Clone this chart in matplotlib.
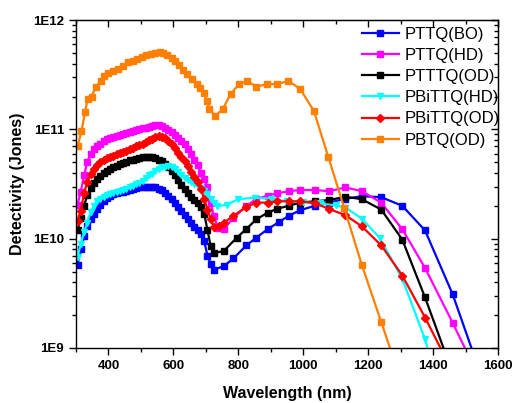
import numpy as np
import matplotlib
matplotlib.use("Agg")
import matplotlib.pyplot as plt
from matplotlib.ticker import MultipleLocator, LogLocator, FixedLocator, NullFormatter

plt.rcParams['font.family'] = ['Liberation Sans', 'DejaVu Sans']

# dense part of the spectra, 305..725 nm every 10 nm
wl_dense = list(range(305, 735, 10))

bo_dense = [5.8e9, 8.0e9, 1.05e10, 1.3e10, 1.52e10, 1.7e10, 1.88e10, 2.05e10, 2.22e10, 2.36e10,
            2.46e10, 2.55e10, 2.6e10, 2.65e10, 2.7e10, 2.72e10, 2.78e10, 2.85e10, 2.9e10, 2.95e10,
            2.98e10, 3.0e10, 3.0e10, 2.98e10, 2.95e10, 2.88e10, 2.78e10, 2.6e10, 2.45e10, 2.3e10,
            2.12e10, 1.95e10, 1.8e10, 1.65e10, 1.5e10, 1.38e10, 1.28e10, 1.2e10, 1.1e10, 9.5e9,
            7.0e9, 5.9e9, 5.2e9]
bo_wl_tail = [755, 785, 825, 855, 890, 925, 955, 990, 1035, 1080, 1130, 1180, 1240, 1305, 1375, 1460, 1540]
bo_tail = [5.6e9, 6.6e9, 8.7e9, 1.02e10, 1.22e10, 1.42e10, 1.62e10, 1.82e10, 2.0e10, 2.14e10,
           2.32e10, 2.45e10, 2.4e10, 2.0e10, 1.19e10, 3.1e9, 6.5e8]

hd_dense = [2.05e10, 2.7e10, 3.8e10, 5.0e10, 6.0e10, 6.6e10, 7.0e10, 7.4e10, 7.8e10, 8.1e10,
            8.3e10, 8.5e10, 8.7e10, 8.85e10, 9.0e10, 9.2e10, 9.4e10, 9.6e10, 9.8e10, 1.0e11,
            1.02e11, 1.04e11, 1.06e11, 1.08e11, 1.1e11, 1.1e11, 1.08e11, 1.04e11, 9.9e10, 9.4e10,
            8.9e10, 8.3e10, 7.8e10, 7.3e10, 6.6e10, 6.0e10, 5.3e10, 4.7e10, 4.0e10, 3.5e10,
            3.0e10, 2.1e10, 1.6e10]
hd_wl_tail = [738, 755, 785, 825, 855, 890, 920, 955, 990, 1035, 1080, 1130, 1180, 1240, 1305, 1375, 1460, 1540]
hd_tail = [1.25e10, 1.23e10, 1.55e10, 2.0e10, 2.3e10, 2.48e10, 2.6e10, 2.72e10, 2.79e10, 2.79e10,
           2.72e10, 2.95e10, 2.72e10, 2.14e10, 1.22e10, 5.4e9, 1.7e9, 5.5e8]

od_dense = [1.2e10, 1.55e10, 2.0e10, 2.5e10, 2.9e10, 3.25e10, 3.5e10, 3.75e10, 4.0e10, 4.2e10,
            4.35e10, 4.5e10, 4.65e10, 4.8e10, 4.95e10, 5.05e10, 5.2e10, 5.3e10, 5.4e10, 5.5e10,
            5.55e10, 5.6e10, 5.6e10, 5.55e10, 5.45e10, 5.3e10, 5.1e10, 4.85e10, 4.55e10, 4.2e10,
            3.8e10, 3.45e10, 3.1e10, 2.85e10, 2.6e10, 2.4e10, 2.25e10, 2.1e10, 1.95e10, 1.7e10,
            1.2e10, 8.5e9, 7.4e9]
od_wl_tail = [755, 795, 825, 855, 890, 920, 955, 990, 1035, 1080, 1130, 1180, 1240, 1305, 1375, 1460]
od_tail = [7.7e9, 1.02e10, 1.23e10, 1.5e10, 1.73e10, 1.88e10, 2.0e10, 2.14e10, 2.2e10, 2.26e10,
           2.42e10, 2.3e10, 1.85e10, 9.8e9, 2.9e9, 5.9e8]

bihd_dense = [6.8e9, 9.0e9, 1.15e10, 1.4e10, 1.75e10, 2.0e10, 2.2e10, 2.32e10, 2.42e10, 2.5e10,
              2.56e10, 2.62e10, 2.68e10, 2.74e10, 2.8e10, 2.88e10, 2.97e10, 3.05e10, 3.15e10, 3.25e10,
              3.4e10, 3.6e10, 3.8e10, 3.95e10, 4.15e10, 4.35e10, 4.5e10, 4.55e10, 4.6e10, 4.5e10,
              4.3e10, 4.05e10, 3.8e10, 3.6e10, 3.45e10, 3.3e10, 3.2e10, 3.05e10, 2.9e10, 2.75e10,
              2.55e10, 2.3e10, 2.1e10]
bihd_wl_tail = [735, 765, 800, 850, 900, 950, 1000, 1050, 1100, 1130, 1180, 1235, 1305, 1375, 1420]
bihd_tail = [1.98e10, 2.05e10, 2.3e10, 2.37e10, 2.32e10, 2.2e10, 2.15e10, 2.1e10, 2.02e10, 1.93e10,
             1.53e10, 1.02e10, 4.3e9, 1.2e9, 4.0e8]

biod_dense = [1.45e10, 1.8e10, 2.6e10, 3.3e10, 3.9e10, 4.35e10, 4.75e10, 5.0e10, 5.25e10, 5.45e10,
              5.6e10, 5.75e10, 5.9e10, 6.1e10, 6.25e10, 6.4e10, 6.6e10, 6.8e10, 7.0e10, 7.2e10,
              7.4e10, 7.7e10, 8.0e10, 8.2e10, 8.5e10, 8.7e10, 8.6e10, 8.3e10, 7.9e10, 7.3e10,
              6.7e10, 6.1e10, 5.6e10, 5.1e10, 4.6e10, 4.1e10, 3.7e10, 3.3e10, 2.85e10, 2.3e10,
              1.85e10, 1.5e10, 1.27e10]
biod_wl_tail = [740, 755, 785, 825, 855, 890, 920, 955, 990, 1035, 1080, 1130, 1180, 1240, 1305, 1375, 1450]
biod_tail = [1.3e10, 1.4e10, 1.62e10, 1.95e10, 2.14e10, 2.14e10, 2.2e10, 2.2e10, 2.2e10, 2.12e10,
             1.87e10, 1.64e10, 1.3e10, 8.7e9, 4.6e9, 1.9e9, 6.9e8]

pbtq_wl = [305, 317, 328, 336, 348, 362, 377, 387, 400, 415, 430, 446, 461, 475, 489, 502, 516, 530,
           543, 559, 569, 581, 595, 605, 618, 631, 643, 656, 672, 682, 694, 703, 711, 728, 752, 776,
           802, 828, 856, 888, 918, 954, 990, 1033, 1077, 1126, 1180, 1240, 1290]
pbtq = [7.0e10, 9.6e10, 1.44e11, 1.88e11, 2.0e11, 2.46e11, 2.8e11, 3.1e11, 3.25e11, 3.4e11, 3.55e11,
        3.8e11, 4.1e11, 4.22e11, 4.4e11, 4.6e11, 4.75e11, 4.85e11, 4.96e11, 5.1e11, 5.03e11, 4.8e11,
        4.5e11, 4.2e11, 3.85e11, 3.5e11, 3.2e11, 2.87e11, 2.6e11, 2.4e11, 2.17e11, 1.82e11, 1.55e11,
        1.33e11, 1.53e11, 2.1e11, 2.6e11, 2.77e11, 2.46e11, 2.6e11, 2.6e11, 2.77e11, 2.36e11, 1.47e11,
        5.6e10, 1.92e10, 5.8e9, 1.73e9, 6.3e8]

labels = ['PTTQ(BO)', 'PTTQ(HD)', 'PTTTQ(OD)', 'PBiTTQ(HD)', 'PBiTTQ(OD)', 'PBTQ(OD)']
colors = ['#0000ff', '#ff00ff', '#000000', '#00ffff', '#ff0000', '#ff8000']
markers = ['s', 's', 's', 'v', 'D', 's']

series = [
    (wl_dense + bo_wl_tail, bo_dense + bo_tail),
    (wl_dense + hd_wl_tail, hd_dense + hd_tail),
    (wl_dense + od_wl_tail, od_dense + od_tail),
    (wl_dense + bihd_wl_tail, bihd_dense + bihd_tail),
    (wl_dense + biod_wl_tail, biod_dense + biod_tail),
    (pbtq_wl, pbtq),
]

fig = plt.figure(figsize=(5.13, 4.03), dpi=100)
ax = fig.add_axes([0.148, 0.1365, 0.823, 0.8135])

for (x, y), lab, c, m in zip(series, labels, colors, markers):
    assert len(x) == len(y), lab
    ms = 4.5 if m == 'D' else 4.2
    ax.plot(x, y, color=c, marker=m, markersize=ms, linewidth=1.6, label=lab, clip_on=True)

ax.set_yscale('log')
ax.set_xlim(300, 1600)
ax.set_ylim(1e9, 1e12)

ax.xaxis.set_major_locator(FixedLocator([400, 600, 800, 1000, 1200, 1400, 1600]))
ax.xaxis.set_minor_locator(MultipleLocator(100))
ax.set_yticks([1e9, 1e10, 1e11, 1e12])
ax.set_yticklabels(['1E9', '1E10', '1E11', '1E12'])
ax.yaxis.set_minor_locator(LogLocator(base=10, subs=np.arange(2, 10)))
ax.yaxis.set_minor_formatter(NullFormatter())

ax.tick_params(which='both', direction='out', top=False, right=False, width=1)
ax.tick_params(which='major', length=5, labelsize=9.5)
ax.tick_params(which='minor', length=3)
for t in ax.get_xticklabels() + ax.get_yticklabels():
    t.set_fontweight('bold')

# mirrored ticks on top and right pointing inward
ax_top = ax.secondary_xaxis('top')
ax_top.xaxis.set_major_locator(FixedLocator([400, 600, 800, 1000, 1200, 1400, 1600]))
ax_top.xaxis.set_minor_locator(MultipleLocator(100))
ax_top.tick_params(which='both', direction='in', labeltop=False, width=1)
ax_top.tick_params(which='major', length=5)
ax_top.tick_params(which='minor', length=3)
ax_right = ax.secondary_yaxis('right')
ax_right.set_yticks([1e9, 1e10, 1e11, 1e12])
ax_right.yaxis.set_minor_locator(LogLocator(base=10, subs=np.arange(2, 10)))
ax_right.tick_params(which='both', direction='in', labelright=False, width=1)
ax_right.tick_params(which='major', length=5)
ax_right.tick_params(which='minor', length=3)

for sp in ax.spines.values():
    sp.set_linewidth(1.0)

ax.set_xlabel('Wavelength (nm)', fontsize=11.5, fontweight='bold', labelpad=10)
ax.set_ylabel('Detectivity (Jones)', fontsize=11.5, fontweight='bold', labelpad=6)

ax.legend(loc='upper right', frameon=False, fontsize=12, labelspacing=0.37,
          handlelength=2.2, handletextpad=0.35, borderaxespad=0.0,
          bbox_to_anchor=(1.02, 1.0))

fig.savefig('out.png', dpi=100)
